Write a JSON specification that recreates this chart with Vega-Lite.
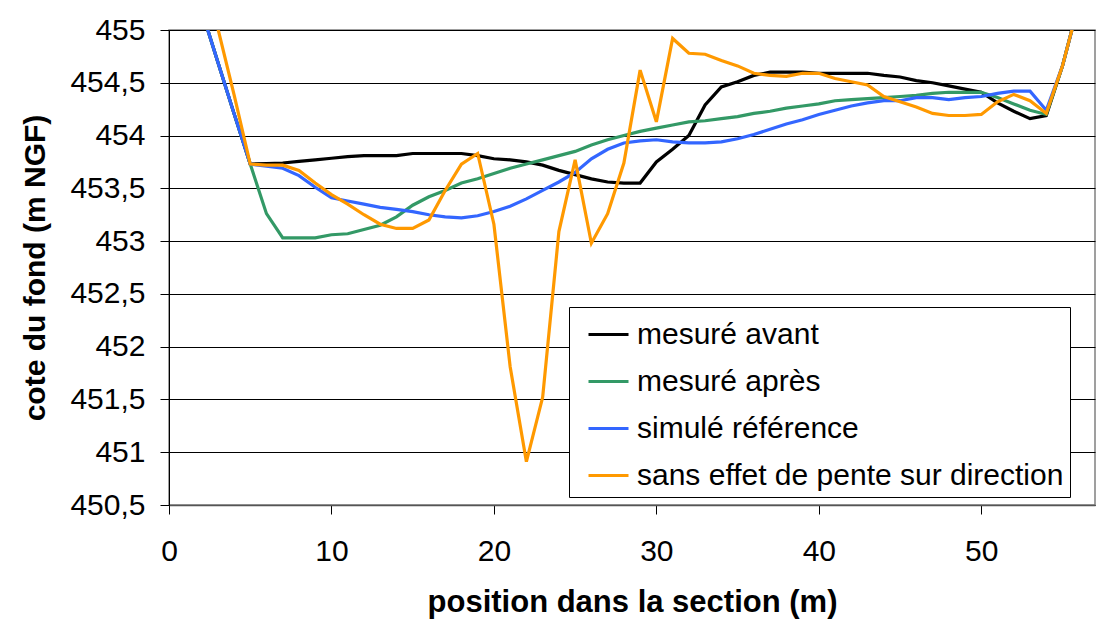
{
  "$schema": "https://vega.github.io/schema/vega-lite/v6.json",
  "width": 926,
  "height": 475,
  "autosize": {"type": "none"},
  "padding": {"left": 169, "top": 30, "right": 1, "bottom": 125},
  "background": "white",
  "config": {
    "view": {"stroke": "#808080", "strokeWidth": 1.5},
    "font": "Liberation Sans",
    "axis": {"labelFont": "Liberation Sans", "titleFont": "Liberation Sans", "labelColor": "black", "titleColor": "black"}
  },
  "data": {
    "values": [
      {"x": 2, "mesuré avant": 455.19, "mesuré après": 455.19, "simulé référence": 455.19, "sans effet de pente sur direction": 455.9},
      {"x": 3, "mesuré avant": 454.70, "mesuré après": 454.70, "simulé référence": 454.70, "sans effet de pente sur direction": 455.02},
      {"x": 4, "mesuré avant": 454.21, "mesuré après": 454.21, "simulé référence": 454.21, "sans effet de pente sur direction": 454.39},
      {"x": 5, "mesuré avant": 453.73, "mesuré après": 453.73, "simulé référence": 453.73, "sans effet de pente sur direction": 453.73},
      {"x": 6, "mesuré avant": 453.735, "mesuré après": 453.26, "simulé référence": 453.71, "sans effet de pente sur direction": 453.72},
      {"x": 7, "mesuré avant": 453.74, "mesuré après": 453.03, "simulé référence": 453.69, "sans effet de pente sur direction": 453.72},
      {"x": 8, "mesuré avant": 453.755, "mesuré après": 453.03, "simulé référence": 453.62, "sans effet de pente sur direction": 453.67},
      {"x": 9, "mesuré avant": 453.77, "mesuré après": 453.03, "simulé référence": 453.51, "sans effet de pente sur direction": 453.55},
      {"x": 10, "mesuré avant": 453.785, "mesuré après": 453.06, "simulé référence": 453.41, "sans effet de pente sur direction": 453.44},
      {"x": 11, "mesuré avant": 453.80, "mesuré après": 453.07, "simulé référence": 453.38, "sans effet de pente sur direction": 453.35},
      {"x": 12, "mesuré avant": 453.81, "mesuré après": 453.11, "simulé référence": 453.35, "sans effet de pente sur direction": 453.25},
      {"x": 13, "mesuré avant": 453.81, "mesuré après": 453.15, "simulé référence": 453.32, "sans effet de pente sur direction": 453.16},
      {"x": 14, "mesuré avant": 453.81, "mesuré après": 453.23, "simulé référence": 453.30, "sans effet de pente sur direction": 453.12},
      {"x": 15, "mesuré avant": 453.83, "mesuré après": 453.34, "simulé référence": 453.28, "sans effet de pente sur direction": 453.12},
      {"x": 16, "mesuré avant": 453.83, "mesuré après": 453.42, "simulé référence": 453.25, "sans effet de pente sur direction": 453.20},
      {"x": 17, "mesuré avant": 453.83, "mesuré après": 453.48, "simulé référence": 453.23, "sans effet de pente sur direction": 453.48},
      {"x": 18, "mesuré avant": 453.83, "mesuré après": 453.55, "simulé référence": 453.22, "sans effet de pente sur direction": 453.73},
      {"x": 19, "mesuré avant": 453.81, "mesuré après": 453.59, "simulé référence": 453.24, "sans effet de pente sur direction": 453.83},
      {"x": 20, "mesuré avant": 453.78, "mesuré après": 453.64, "simulé référence": 453.28, "sans effet de pente sur direction": 453.16},
      {"x": 21, "mesuré avant": 453.77, "mesuré après": 453.69, "simulé référence": 453.33, "sans effet de pente sur direction": 451.81},
      {"x": 22, "mesuré avant": 453.75, "mesuré après": 453.73, "simulé référence": 453.40, "sans effet de pente sur direction": 450.91},
      {"x": 23, "mesuré avant": 453.72, "mesuré après": 453.77, "simulé référence": 453.48, "sans effet de pente sur direction": 451.52},
      {"x": 24, "mesuré avant": 453.67, "mesuré après": 453.81, "simulé référence": 453.56, "sans effet de pente sur direction": 453.09},
      {"x": 25, "mesuré avant": 453.63, "mesuré après": 453.85, "simulé référence": 453.65, "sans effet de pente sur direction": 453.77},
      {"x": 26, "mesuré avant": 453.59, "mesuré après": 453.91, "simulé référence": 453.78, "sans effet de pente sur direction": 452.98},
      {"x": 27, "mesuré avant": 453.56, "mesuré après": 453.96, "simulé référence": 453.87, "sans effet de pente sur direction": 453.26},
      {"x": 28, "mesuré avant": 453.55, "mesuré après": 454.00, "simulé référence": 453.93, "sans effet de pente sur direction": 453.74},
      {"x": 29, "mesuré avant": 453.55, "mesuré après": 454.04, "simulé référence": 453.95, "sans effet de pente sur direction": 454.62},
      {"x": 30, "mesuré avant": 453.75, "mesuré après": 454.07, "simulé référence": 453.96, "sans effet de pente sur direction": 454.13},
      {"x": 31, "mesuré avant": 453.87, "mesuré après": 454.10, "simulé référence": 453.94, "sans effet de pente sur direction": 454.92},
      {"x": 32, "mesuré avant": 454.00, "mesuré après": 454.13, "simulé référence": 453.93, "sans effet de pente sur direction": 454.78},
      {"x": 33, "mesuré avant": 454.29, "mesuré après": 454.14, "simulé référence": 453.93, "sans effet de pente sur direction": 454.77},
      {"x": 34, "mesuré avant": 454.46, "mesuré après": 454.16, "simulé référence": 453.94, "sans effet de pente sur direction": 454.71},
      {"x": 35, "mesuré avant": 454.51, "mesuré après": 454.18, "simulé référence": 453.97, "sans effet de pente sur direction": 454.66},
      {"x": 36, "mesuré avant": 454.57, "mesuré après": 454.21, "simulé référence": 454.01, "sans effet de pente sur direction": 454.59},
      {"x": 37, "mesuré avant": 454.60, "mesuré après": 454.23, "simulé référence": 454.06, "sans effet de pente sur direction": 454.57},
      {"x": 38, "mesuré avant": 454.60, "mesuré après": 454.26, "simulé référence": 454.11, "sans effet de pente sur direction": 454.56},
      {"x": 39, "mesuré avant": 454.60, "mesuré après": 454.28, "simulé référence": 454.15, "sans effet de pente sur direction": 454.59},
      {"x": 40, "mesuré avant": 454.59, "mesuré après": 454.30, "simulé référence": 454.20, "sans effet de pente sur direction": 454.59},
      {"x": 41, "mesuré avant": 454.59, "mesuré après": 454.33, "simulé référence": 454.24, "sans effet de pente sur direction": 454.54},
      {"x": 42, "mesuré avant": 454.59, "mesuré après": 454.34, "simulé référence": 454.28, "sans effet de pente sur direction": 454.51},
      {"x": 43, "mesuré avant": 454.59, "mesuré après": 454.35, "simulé référence": 454.31, "sans effet de pente sur direction": 454.48},
      {"x": 44, "mesuré avant": 454.57, "mesuré après": 454.36, "simulé référence": 454.33, "sans effet de pente sur direction": 454.37},
      {"x": 45, "mesuré avant": 454.555, "mesuré après": 454.37, "simulé référence": 454.33, "sans effet de pente sur direction": 454.32},
      {"x": 46, "mesuré avant": 454.52, "mesuré après": 454.38, "simulé référence": 454.36, "sans effet de pente sur direction": 454.27},
      {"x": 47, "mesuré avant": 454.50, "mesuré après": 454.40, "simulé référence": 454.36, "sans effet de pente sur direction": 454.21},
      {"x": 48, "mesuré avant": 454.47, "mesuré après": 454.41, "simulé référence": 454.34, "sans effet de pente sur direction": 454.19},
      {"x": 49, "mesuré avant": 454.44, "mesuré après": 454.41, "simulé référence": 454.36, "sans effet de pente sur direction": 454.19},
      {"x": 50, "mesuré avant": 454.41, "mesuré après": 454.41, "simulé référence": 454.37, "sans effet de pente sur direction": 454.20},
      {"x": 51, "mesuré avant": 454.31, "mesuré après": 454.36, "simulé référence": 454.40, "sans effet de pente sur direction": 454.32},
      {"x": 52, "mesuré avant": 454.23, "mesuré après": 454.30, "simulé référence": 454.42, "sans effet de pente sur direction": 454.39},
      {"x": 53, "mesuré avant": 454.16, "mesuré après": 454.24, "simulé référence": 454.42, "sans effet de pente sur direction": 454.33},
      {"x": 54, "mesuré avant": 454.19, "mesuré après": 454.20, "simulé référence": 454.24, "sans effet de pente sur direction": 454.21},
      {"x": 55, "mesuré avant": 454.66, "mesuré après": 454.66, "simulé référence": 454.66, "sans effet de pente sur direction": 454.66},
      {"x": 56, "mesuré avant": 455.25, "mesuré après": 455.25, "simulé référence": 455.25, "sans effet de pente sur direction": 455.25}
    ]
  },
  "transform": [
    {"fold": ["mesuré avant", "mesuré après", "simulé référence", "sans effet de pente sur direction"], "as": ["serie", "cote"]}
  ],
  "mark": {"type": "line", "clip": true, "strokeWidth": 3.2},
  "encoding": {
    "x": {
      "field": "x", "type": "quantitative",
      "scale": {"domain": [0, 57], "nice": false, "zero": false},
      "axis": {
        "title": "position dans la section (m)",
        "values": [0, 10, 20, 30, 40, 50],
        "grid": false,
        "tickSize": 9, "tickColor": "black", "domainColor": "#555555", "domainWidth": 1.5,
        "labelFontSize": 30, "labelPadding": 22, "labelFlush": false,
        "titleFontSize": 31, "titleFontWeight": "bold", "titlePadding": 21
      }
    },
    "y": {
      "field": "cote", "type": "quantitative",
      "scale": {"domain": [450.5, 455], "nice": false, "zero": false},
      "axis": {
        "title": "cote du fond (m NGF)",
        "values": [450.5, 451, 451.5, 452, 452.5, 453, 453.5, 454, 454.5, 455],
        "labelExpr": "replace(toString(datum.value), '.', ',')",
        "grid": true, "gridColor": "black", "gridWidth": 1, "gridOpacity": 1,
        "tickSize": 9, "tickColor": "black", "domainColor": "black",
        "labelFontSize": 30, "labelPadding": 15, "labelFlush": false,
        "titleFontSize": 30, "titleFontWeight": "bold", "titlePadding": 19
      }
    },
    "color": {
      "field": "serie", "type": "nominal",
      "sort": ["mesuré avant", "mesuré après", "simulé référence", "sans effet de pente sur direction"],
      "scale": {
        "domain": ["mesuré avant", "mesuré après", "simulé référence", "sans effet de pente sur direction"],
        "range": ["#000000", "#339966", "#3366FF", "#FF9900"]
      },
      "legend": {
        "title": null,
        "orient": "none", "legendX": 400, "legendY": 277,
        "padding": 6, "symbolOffset": 12, "labelOffset": 7,
        "labelFontSize": 30, "labelFont": "Liberation Sans", "labelColor": "black", "labelLimit": 0,
        "rowPadding": 10,
        "strokeColor": "black", "fillColor": "white",
        "symbolType": "stroke", "symbolSize": 1600, "symbolStrokeWidth": 3
      }
    }
  }
}
